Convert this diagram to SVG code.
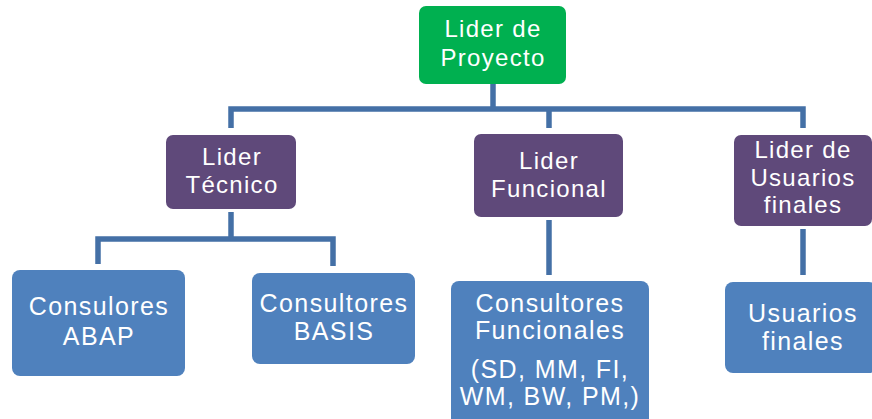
<svg xmlns="http://www.w3.org/2000/svg" width="872" height="419" viewBox="0 0 872 419">
<style>
.lead{fill:#00B050}
.mgr{fill:#5F497A}
.team{fill:#4F81BD}
.t{font-family:"Liberation Sans",Arial,sans-serif;font-size:24px;fill:#FFFFFF;text-anchor:middle;letter-spacing:1.3px}
.b{font-size:25px;letter-spacing:1.4px}
.c{fill:none;stroke:#4470A6;stroke-width:5.5;stroke-linejoin:miter;stroke-linecap:butt}
</style>
<rect width="872" height="419" fill="#FFFFFF"/>
<g id="connectors">
<path class="c" d="M493 84 V109"/>
<path class="c" d="M231 128 V109 H803 V128"/>
<path class="c" d="M549 109 V128"/>
<path class="c" d="M231 212 V239"/>
<path class="c" d="M98 264 V239 H333 V266"/>
<path class="c" d="M549 220 V275"/>
<path class="c" d="M803 229 V275"/>
</g>
<g id="lider-proyecto">
<rect class="lead" x="419" y="6" width="147" height="78" rx="7"/>
<text class="t" x="493" y="37">Lider de</text>
<text class="t" x="493" y="66">Proyecto</text>
</g>
<g id="lider-tecnico">
<rect class="mgr" x="166" y="135" width="130" height="74" rx="7"/>
<text class="t" x="232" y="165">Lider</text>
<text class="t" x="232" y="193">Técnico</text>
</g>
<g id="lider-funcional">
<rect class="mgr" x="474" y="134" width="149" height="83" rx="7"/>
<text class="t" x="549" y="169">Lider</text>
<text class="t" x="549" y="197">Funcional</text>
</g>
<g id="lider-usuarios">
<rect class="mgr" x="734" y="135" width="138" height="91" rx="7"/>
<text class="t" x="803" y="158">Lider de</text>
<text class="t" x="803" y="186">Usuarios</text>
<text class="t" x="803" y="213">finales</text>
</g>
<g id="consultores-abap">
<rect class="team" x="12" y="270" width="173" height="106" rx="8"/>
<text class="t b" x="99" y="315">Consulores</text>
<text class="t b" x="99" y="345">ABAP</text>
</g>
<g id="consultores-basis">
<rect class="team" x="252" y="273" width="163" height="91" rx="8"/>
<text class="t b" x="334" y="312">Consultores</text>
<text class="t b" x="334" y="340">BASIS</text>
</g>
<g id="consultores-funcionales">
<rect class="team" x="451" y="281" width="198" height="150" rx="8"/>
<text class="t b" x="550" y="312">Consultores</text>
<text class="t b" x="550" y="339">Funcionales</text>
<text class="t b" x="550" y="378">(SD, MM, FI,</text>
<text class="t b" x="550" y="405">WM, BW, PM,)</text>
</g>
<g id="usuarios-finales">
<rect class="team" x="725" y="282" width="152" height="91" rx="8"/>
<text class="t b" x="803" y="322">Usuarios</text>
<text class="t b" x="803" y="350">finales</text>
</g>
</svg>
